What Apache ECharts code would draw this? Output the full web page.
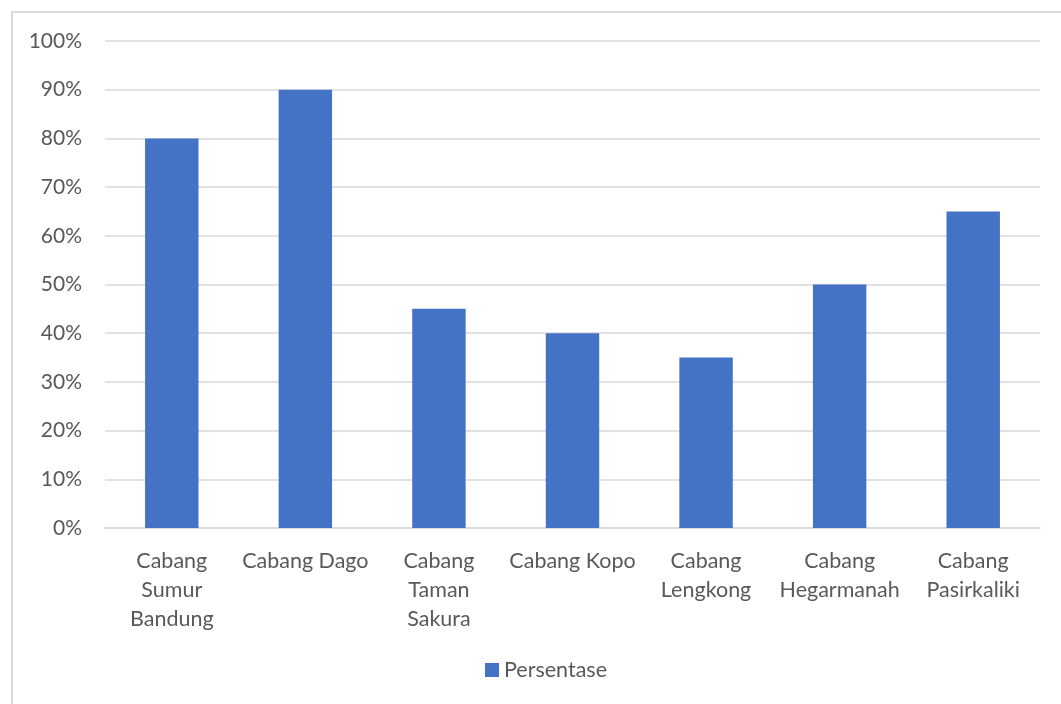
<!DOCTYPE html>
<html>
<head>
<meta charset="utf-8">
<script src="https://cdn.jsdelivr.net/npm/echarts@6/dist/echarts.min.js"></script>
<style>
html,body{margin:0;padding:0;background:#fff;}
#chart{width:1061px;height:704px;}
</style>
</head>
<body>
<div id="chart"></div>
<script>
const categories = ["Cabang\nSumur\nBandung", "Cabang Dago", "Cabang\nTaman\nSakura", "Cabang Kopo", "Cabang\nLengkong", "Cabang\nHegarmanah", "Cabang\nPasirkaliki"];
const seriesName = "Persentase";
const values = [80, 90, 45, 40, 35, 50, 65];
const yTicks = [0, 10, 20, 30, 40, 50, 60, 70, 80, 90, 100];

const FONT = "Lato";
const chart = echarts.init(document.getElementById('chart'), null, {renderer: 'canvas'});
chart.setOption({
  backgroundColor: '#ffffff',
  animation: false,
  graphic: [{
    type: 'rect',
    shape: {x: 12, y: 12, width: 1200, height: 900},
    style: {fill: 'none', stroke: '#d9d9d9', lineWidth: 2}
  }],
  grid: {left: 105, right: 21, top: 41, bottom: 176, containLabel: false},
  legend: {
    data: [seriesName],
    bottom: 18,
    left: 480,
    icon: 'rect',
    itemWidth: 14,
    itemHeight: 14,
    itemGap: 6,
    textStyle: {fontFamily: FONT, fontSize: 21.5, color: '#595959'}
  },
  xAxis: {
    type: 'category',
    data: categories,
    axisLine: {lineStyle: {color: '#d9d9d9', width: 1.5}},
    axisTick: {show: false},
    axisLabel: {fontFamily: FONT, fontSize: 21.5, color: '#595959', lineHeight: 29, margin: 19, interval: 0}
  },
  yAxis: {
    type: 'value',
    min: 0, max: 100, interval: 10,
    axisLine: {show: false},
    axisTick: {show: false},
    splitLine: {lineStyle: {color: '#d9d9d9', width: 1.5}},
    axisLabel: {fontFamily: FONT, fontSize: 21, color: '#595959', margin: 23,
      formatter: v => yTicks.includes(v) ? v + '%' : ''}
  },
  series: [{
    name: seriesName,
    type: 'bar',
    data: values,
    barWidth: '40%',
    itemStyle: {color: '#4472c4'}
  }]
});
</script>
</body>
</html>
